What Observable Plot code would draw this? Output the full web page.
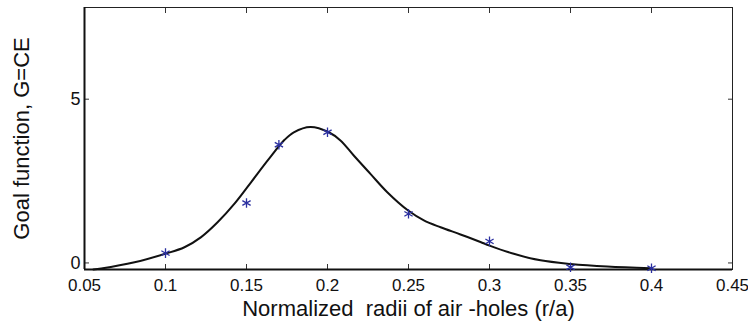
<!DOCTYPE html>
<html>
<head>
<meta charset="utf-8">
<script src="https://cdn.jsdelivr.net/npm/d3@7"></script>
<script src="https://cdn.jsdelivr.net/npm/@observablehq/plot@0.6"></script>
<style>
  html, body { margin: 0; padding: 0; background: #fff; }
  svg { display: block; }
</style>
</head>
<body>
<div id="chart"></div>
<script>
// Measured samples (stars)
const pointX = [0.1, 0.15, 0.17, 0.2, 0.25, 0.3, 0.35, 0.4];
const pointY = [0.30, 1.83, 3.61, 3.99, 1.50, 0.66, -0.13, -0.16];

// Fitted curve
const curveX = [0.0555, 0.0603, 0.0809, 0.0998, 0.1117, 0.122, 0.1323, 0.1426, 0.1529, 0.1631, 0.1735, 0.1792, 0.1895, 0.2008, 0.208, 0.2162, 0.2265, 0.2369, 0.2498, 0.2595, 0.2698, 0.2821, 0.2944, 0.3, 0.315, 0.3315, 0.35, 0.3727, 0.3994];
const curveY = [-0.2, -0.17, 0.02, 0.28, 0.48, 0.79, 1.25, 1.81, 2.47, 3.13, 3.76, 3.99, 4.15, 3.99, 3.74, 3.28, 2.72, 2.16, 1.60, 1.30, 1.09, 0.87, 0.64, 0.53, 0.28, 0.08, -0.03, -0.11, -0.16];

const xTicks = [0.05, 0.1, 0.15, 0.2, 0.25, 0.3, 0.35, 0.4, 0.45];
const yTicks = [0, 5];
const xLabel = "Normalized  radii of air -holes (r/a)";
const yLabel = "Goal function, G=CE";

const points = pointX.map((x, i) => ({x, y: pointY[i]}));
const curve = curveX.map((x, i) => ({x, y: curveY[i]}));

const font = "'Liberation Sans', Arial, Helvetica, sans-serif";

const chart = Plot.plot({
  width: 748,
  height: 333,
  marginLeft: 84,
  marginRight: 16,
  marginTop: 7,
  marginBottom: 64,
  style: {fontFamily: font, fontSize: "17px", color: "#111", background: "#fff"},
  x: {domain: [0.05, 0.45]},
  y: {domain: [-0.2, 7.8]},
  marks: [
    // inward tick marks on all four sides
    Plot.axisX(xTicks, {anchor: "bottom", tickSize: -5, text: null, label: null, stroke: "#333"}),
    Plot.axisX(xTicks, {anchor: "top", tickSize: -5, text: null, label: null, stroke: "#333"}),
    Plot.axisY(yTicks, {anchor: "left", tickSize: -5, text: null, label: null, stroke: "#333"}),
    Plot.axisY(yTicks, {anchor: "right", tickSize: -5, text: null, label: null, stroke: "#333"}),
    // tick labels
    Plot.axisX(xTicks, {anchor: "bottom", tickSize: 0, tickPadding: 9, label: null, tickFormat: d => String(+d.toFixed(2)), fontSize: 17}),
    Plot.axisY(yTicks, {anchor: "left", tickSize: 0, tickPadding: 4, label: null, tickFormat: d => String(d), fontSize: 18}),
    Plot.frame({stroke: "#222", strokeWidth: 1}),
    Plot.ruleY([-0.2], {stroke: "#111", strokeWidth: 2}),
    Plot.ruleX([0.05], {stroke: "#111", strokeWidth: 2}),
    Plot.line(curve, {x: "x", y: "y", curve: "catmull-rom", stroke: "#111", strokeWidth: 2}),
    Plot.dot(points, {x: "x", y: "y", symbol: "asterisk", r: 4.5, stroke: "#2a2fa0", strokeWidth: 1.3}),
    Plot.text([xLabel], {frameAnchor: "bottom", dy: 46, fontSize: 22, fill: "#111"}),
    Plot.text([yLabel], {frameAnchor: "left", textAnchor: "middle", dx: -63, rotate: -90, fontSize: 22, fill: "#111"})
  ]
});
document.getElementById("chart").appendChild(chart);
</script>
</body>
</html>
